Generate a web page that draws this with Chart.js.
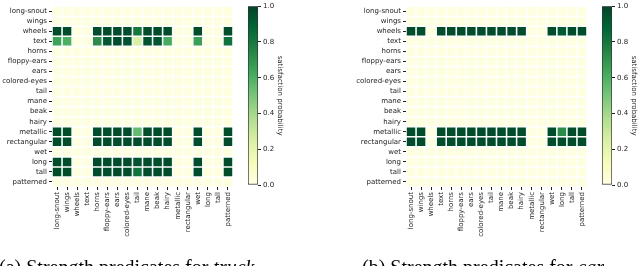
<!DOCTYPE html>
<html>
<head>
<meta charset="utf-8">
<script src="https://cdn.jsdelivr.net/npm/chart.js@4.4.1/dist/chart.umd.min.js"></script>
<style>
  html, body { margin: 0; padding: 0; background: #fff; }
  #page { position: relative; width: 640px; height: 266px; overflow: hidden; }
  #page canvas { position: absolute; top: 0; }
  .caption { position: absolute; top: 257px; font-family: 'Liberation Serif', serif; font-size: 20px; line-height: 20px; white-space: nowrap; color: #000; }
</style>
</head>
<body>
<div id="page">
  <canvas id="truckMap" width="240" height="266" style="left:0px"></canvas>
  <canvas id="truckBar" width="80" height="266" style="left:240px"></canvas>
  <canvas id="carMap" width="240" height="266" style="left:354px"></canvas>
  <canvas id="carBar" width="80" height="266" style="left:594px"></canvas>
  <div class="caption" style="left:-1px">(a) Strength predicates for <i>truck</i></div>
  <div class="caption" style="left:362px">(b) Strength predicates for <i>car</i></div>
</div>
<script>
// predicates, same order on both axes
const predicates = ['long-snout', 'wings', 'wheels', 'text', 'horns', 'floppy-ears', 'ears', 'colored-eyes',
  'tail', 'mane', 'beak', 'hairy', 'metallic', 'rectangular', 'wet', 'long', 'tall', 'patterned'];

const colorbarTicks = [0, 0.2, 0.4, 0.6, 0.8, 1.0];

// rows = y predicate, columns = x predicate
const truckValues = [
  [.02,.02,.02,.02,.02,.02,.02,.02,.02,.02,.02,.02,.02,.02,.02,.02,.02,.02], // long-snout
  [.02,.02,.02,.02,.02,.02,.02,.02,.02,.02,.02,.02,.02,.02,.02,.02,.02,.02], // wings
  [.97,.97,.02,.02,.97,.97,.97,.97,.80,.97,.97,.97,.02,.02,.97,.02,.02,.96], // wheels
  [.65,.60,.02,.02,.72,.93,.97,.95,.25,.95,.94,.62,.02,.02,.66,.02,.02,.82], // text
  [.02,.02,.02,.02,.02,.02,.02,.02,.02,.02,.02,.02,.02,.02,.02,.02,.02,.02], // horns
  [.02,.02,.02,.02,.02,.02,.02,.02,.02,.02,.02,.02,.02,.02,.02,.02,.02,.02], // floppy-ears
  [.02,.02,.02,.02,.02,.02,.02,.02,.02,.02,.02,.02,.02,.02,.02,.02,.02,.02], // ears
  [.02,.02,.02,.02,.02,.02,.02,.02,.02,.02,.02,.02,.02,.02,.02,.02,.02,.02], // colored-eyes
  [.02,.02,.02,.02,.02,.02,.02,.02,.02,.02,.02,.02,.02,.02,.02,.02,.02,.02], // tail
  [.02,.02,.02,.02,.02,.02,.02,.02,.02,.02,.02,.02,.02,.02,.02,.02,.02,.02], // mane
  [.02,.02,.02,.02,.02,.02,.02,.02,.02,.02,.02,.02,.02,.02,.02,.02,.02,.02], // beak
  [.02,.02,.02,.02,.02,.02,.02,.02,.02,.02,.02,.02,.02,.02,.02,.02,.02,.02], // hairy
  [.97,.97,.02,.02,.97,.97,.97,.97,.55,.97,.97,.97,.02,.02,.97,.02,.02,.97], // metallic
  [.97,.97,.02,.02,.97,.97,.97,.97,.97,.97,.97,.97,.02,.02,.97,.02,.02,.97], // rectangular
  [.02,.02,.02,.02,.02,.02,.02,.02,.02,.02,.02,.02,.02,.02,.02,.02,.02,.02], // wet
  [.97,.97,.02,.02,.97,.97,.97,.97,.95,.97,.97,.97,.02,.02,.97,.02,.02,.97], // long
  [.97,.97,.02,.02,.97,.97,.97,.97,.82,.97,.97,.97,.02,.02,.97,.02,.02,.97], // tall
  [.02,.02,.02,.02,.02,.02,.02,.02,.02,.02,.02,.02,.02,.02,.02,.02,.02,.02]  // patterned
];

const carValues = [
  [.02,.02,.02,.02,.02,.02,.02,.02,.02,.02,.02,.02,.02,.02,.02,.02,.02,.02], // long-snout
  [.02,.02,.02,.02,.02,.02,.02,.02,.02,.02,.02,.02,.02,.02,.02,.02,.02,.02], // wings
  [.97,.97,.02,.97,.97,.97,.97,.97,.97,.97,.97,.97,.02,.02,.97,.93,.97,.97], // wheels
  [.02,.02,.02,.02,.02,.02,.02,.02,.02,.02,.02,.02,.02,.02,.02,.02,.02,.02], // text
  [.02,.02,.02,.02,.02,.02,.02,.02,.02,.02,.02,.02,.02,.02,.02,.02,.02,.02], // horns
  [.02,.02,.02,.02,.02,.02,.02,.02,.02,.02,.02,.02,.02,.02,.02,.02,.02,.02], // floppy-ears
  [.02,.02,.02,.02,.02,.02,.02,.02,.02,.02,.02,.02,.02,.02,.02,.02,.02,.02], // ears
  [.02,.02,.02,.02,.02,.02,.02,.02,.02,.02,.02,.02,.02,.02,.02,.02,.02,.02], // colored-eyes
  [.02,.02,.02,.02,.02,.02,.02,.02,.02,.02,.02,.02,.02,.02,.02,.02,.02,.02], // tail
  [.02,.02,.02,.02,.02,.02,.02,.02,.02,.02,.02,.02,.02,.02,.02,.02,.02,.02], // mane
  [.02,.02,.02,.02,.02,.02,.02,.02,.02,.02,.02,.02,.02,.02,.02,.02,.02,.02], // beak
  [.02,.02,.02,.02,.02,.02,.02,.02,.02,.02,.02,.02,.02,.02,.02,.02,.02,.02], // hairy
  [.97,.97,.02,.97,.97,.97,.97,.97,.97,.97,.97,.97,.02,.02,.97,.72,.97,.97], // metallic
  [.97,.97,.02,.97,.97,.97,.97,.97,.97,.97,.97,.97,.02,.02,.97,.97,.97,.97], // rectangular
  [.02,.02,.02,.02,.02,.02,.02,.02,.02,.02,.02,.02,.02,.02,.02,.02,.02,.02], // wet
  [.02,.02,.02,.02,.02,.02,.02,.02,.02,.02,.02,.02,.02,.02,.02,.02,.02,.02], // long
  [.02,.02,.02,.02,.02,.02,.02,.02,.02,.02,.02,.02,.02,.02,.02,.02,.02,.02], // tall
  [.02,.02,.02,.02,.02,.02,.02,.02,.02,.02,.02,.02,.02,.02,.02,.02,.02,.02]  // patterned
];

// matplotlib YlGn
const ylgn = ['#ffffe5', '#f7fcb9', '#d9f0a3', '#addd8e', '#78c679', '#41ab5d', '#238443', '#006837', '#004529'];

const hexToRgb = h => [1, 3, 5].map(i => parseInt(h.substr(i, 2), 16));

function cmap(v) {
  const t = Math.min(1, Math.max(0, v)) * (ylgn.length - 1);
  const i = Math.min(Math.floor(t), ylgn.length - 2);
  const f = t - i;
  const a = hexToRgb(ylgn[i]), b = hexToRgb(ylgn[i + 1]);
  const c = a.map((x, k) => Math.round(x + (b[k] - x) * f));
  return `rgb(${c[0]},${c[1]},${c[2]})`;
}

Chart.defaults.font.family = "'DejaVu Sans', sans-serif";
Chart.defaults.font.size = 7;
Chart.defaults.color = '#222';

const axisFont = { size: 7, family: "'DejaVu Sans', sans-serif" };

function drawHeatmap(id, values) {
  const points = [];
  values.forEach((row, r) => {
    row.forEach((v, c) => points.push({ x: predicates[c], y: predicates[r], v: v }));
  });

  new Chart(document.getElementById(id), {
    type: 'scatter',
    data: {
      datasets: [{
        data: points,
        pointStyle: 'rect',
        pointRadius: 6,
        pointHoverRadius: 6,
        borderWidth: 0,
        backgroundColor: points.map(p => cmap(p.v))
      }]
    },
    options: {
      responsive: false,
      animation: false,
      events: [],
      layout: { padding: { top: 3, right: 7, left: 0, bottom: 0 } },
      plugins: { legend: { display: false }, tooltip: { enabled: false } },
      scales: {
        x: {
          type: 'category',
          labels: predicates,
          offset: true,
          grid: { drawOnChartArea: false, tickLength: 3, color: '#222' },
          border: { display: false },
          ticks: { autoSkip: false, minRotation: 90, maxRotation: 90, font: axisFont, color: '#222', padding: 2 },
          afterFit: s => { s.height = 79; }
        },
        y: {
          type: 'category',
          labels: predicates,
          offset: true,
          grid: { drawOnChartArea: false, tickLength: 3, color: '#222' },
          border: { display: false },
          ticks: { autoSkip: false, font: axisFont, color: '#222', padding: 2 },
          afterFit: s => { s.width = 52; }
        }
      }
    }
  });
}

function drawColorbar(id) {
  new Chart(document.getElementById(id), {
    type: 'bar',
    data: {
      labels: [''],
      datasets: [{
        data: [[colorbarTicks[0], colorbarTicks[colorbarTicks.length - 1]]],
        barPercentage: 1,
        categoryPercentage: 1,
        borderWidth: 1,
        borderColor: '#333',
        borderSkipped: false,
        backgroundColor: c => {
          const area = c.chart.chartArea;
          if (!area) return ylgn[4];
          const g = c.chart.ctx.createLinearGradient(0, area.bottom, 0, area.top);
          ylgn.forEach((col, i) => g.addColorStop(i / (ylgn.length - 1), col));
          return g;
        }
      }]
    },
    options: {
      responsive: false,
      animation: false,
      events: [],
      layout: { padding: { top: 4, right: 36, left: 8, bottom: 81 } },
      plugins: { legend: { display: false }, tooltip: { enabled: false } },
      scales: {
        x: { display: false },
        y: {
          position: 'right',
          min: 0,
          max: 1,
          grid: { drawOnChartArea: false, tickLength: 3, color: '#222' },
          border: { display: false },
          ticks: { stepSize: 0.2, font: axisFont, color: '#222', padding: 2, callback: v => Number(v).toFixed(1) },
          title: { display: true, text: 'satisfaction probability', font: axisFont, color: '#222', padding: 0 },
          afterFit: s => { s.width = 26; }
        }
      }
    }
  });
}

drawHeatmap('truckMap', truckValues);
drawColorbar('truckBar');
drawHeatmap('carMap', carValues);
drawColorbar('carBar');
</script>
</body>
</html>
